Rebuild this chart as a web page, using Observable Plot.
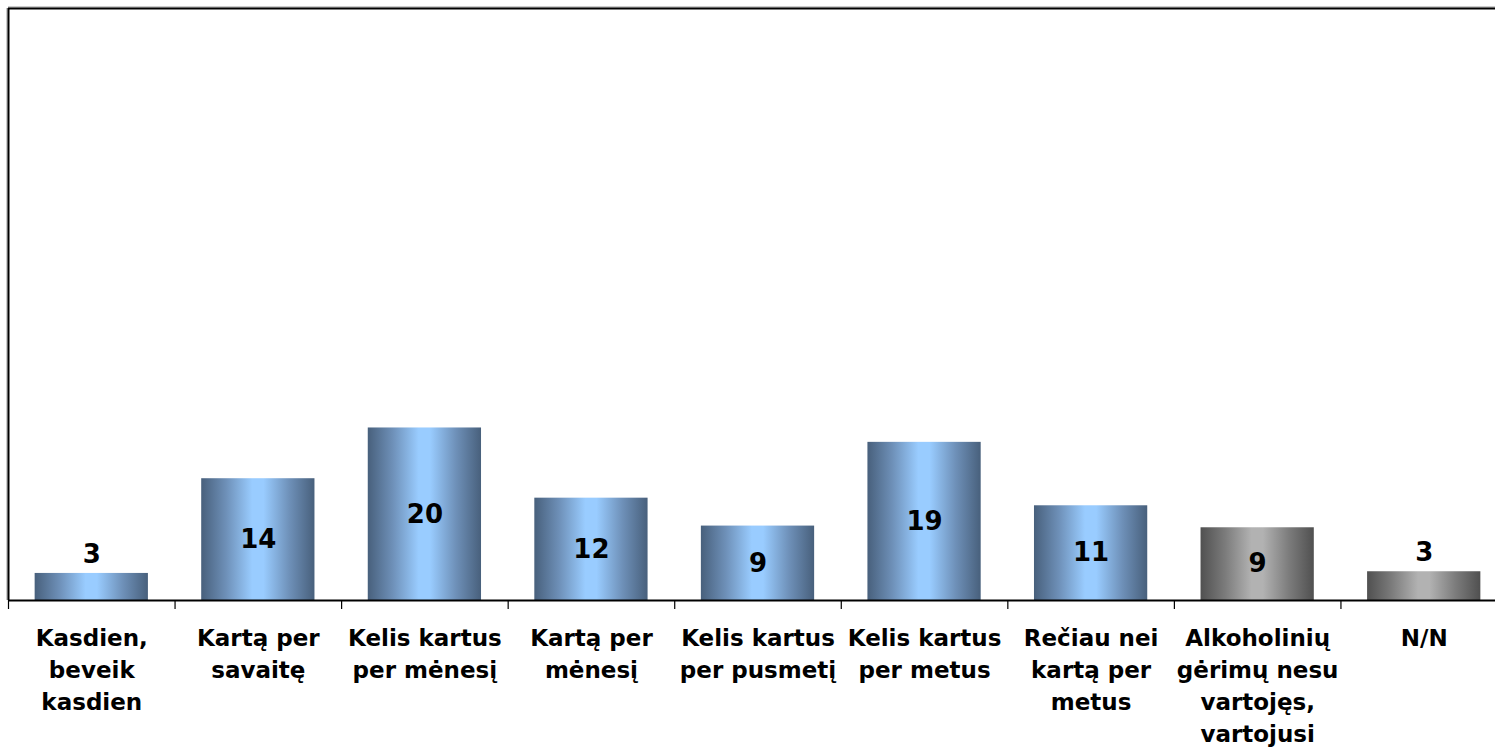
<!DOCTYPE html>
<html><head><meta charset="utf-8">
<script src="https://cdn.jsdelivr.net/npm/d3@7"></script>
<script src="https://cdn.jsdelivr.net/npm/@observablehq/plot@0.6"></script>
<style>
body{margin:0;background:#fff;overflow:hidden}
svg{overflow:hidden}
</style>
</head><body><div id="chart"></div>
<script>
const categories = [
  "Kasdien,\nbeveik\nkasdien",
  "Kartą per\nsavaitę",
  "Kelis kartus\nper mėnesį",
  "Kartą per\nmėnesį",
  "Kelis kartus\nper pusmetį",
  "Kelis kartus\nper metus",
  "Rečiau nei\nkartą per\nmetus",
  "Alkoholinių\ngėrimų nesu\nvartojęs,\nvartojusi",
  "N/N"
];
const values = [3.2, 14.4, 20.4, 12.1, 8.8, 18.7, 11.2, 8.6, 3.4];
const groups = ["blue","blue","blue","blue","blue","blue","blue","gray","gray"];
const yMax = 70;

const data = categories.map((c, i) => ({i, name: c, value: values[i], group: groups[i], label: Math.round(values[i])}));
const font = "'DejaVu Sans', Verdana, sans-serif";

const plot = Plot.plot({
  width: 1495, height: 747,
  marginTop: 8, marginBottom: 147, marginLeft: 8, marginRight: -12,
  x: {domain: [0, categories.length], axis: null},
  y: {domain: [0, yMax], axis: null},
  style: {fontFamily: font, background: "#fff", color: "black"},
  marks: [
    Plot.rectY(data.filter(d => d.group === "blue"), {x1: d => d.i + 0.16, x2: d => d.i + 0.84, y1: 0, y2: "value", fill: "url(#gBlue)"}),
    Plot.rectY(data.filter(d => d.group === "gray"), {x1: d => d.i + 0.16, x2: d => d.i + 0.84, y1: 0, y2: "value", fill: "url(#gGray)"}),
    Plot.ruleY([yMax], {stroke: "#999", strokeWidth: 1, dy: -1.5}),
    Plot.ruleY([yMax], {stroke: "black", strokeWidth: 2}),
    Plot.ruleX([0], {y1: 0, y2: yMax, stroke: "#999", strokeWidth: 1, dx: -1.5}),
    Plot.ruleX([0], {y1: 0, y2: yMax, stroke: "black", strokeWidth: 2}),
    Plot.ruleY([0], {stroke: "black", strokeWidth: 2}),
    Plot.axisX({ticks: d3.range(0, categories.length + 1), tickSize: 9, tickFormat: () => "", stroke: "black", strokeWidth: 1.2}),
    Plot.axisX({ticks: d3.range(categories.length).map(i => i + 0.5), tickSize: 0, tickPadding: 23,
      tickFormat: v => categories[Math.floor(v)], fontSize: 23, fontWeight: "bold", lineHeight: 1.39, fill: "black"}),
    Plot.text(data.filter(d => d.value >= 5), {x: d => d.i + 0.5, y: d => d.value / 2, text: "label", fontSize: 26, fontWeight: "bold", fill: "black"}),
    Plot.text(data.filter(d => d.value < 5), {x: d => d.i + 0.5, y: "value", dy: -19, text: "label", fontSize: 26, fontWeight: "bold", fill: "black"})
  ]
});

const defs = d3.select(plot).insert("defs", ":first-child");
function grad(id, edge, mid, center) {
  const g = defs.append("linearGradient").attr("id", id).attr("x1", 0).attr("x2", 1).attr("y1", 0).attr("y2", 0);
  [[0, edge], [0.22, mid], [0.45, center], [0.55, center], [0.78, mid], [1, edge]].forEach(([o, c]) =>
    g.append("stop").attr("offset", o).attr("stop-color", c));
}
grad("gBlue", "#48607c", "#6e90b8", "#99ccff");
grad("gGray", "#505050", "#7c7c7c", "#b2b2b2");

document.getElementById("chart").append(plot);
</script>
</body></html>
